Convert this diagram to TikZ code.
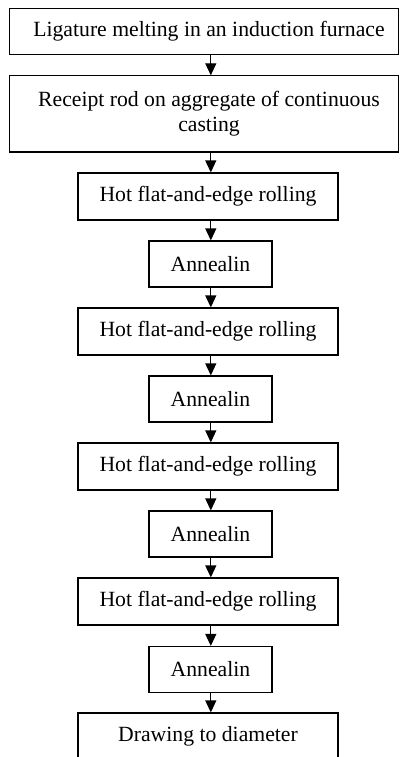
\documentclass[tikz,border=0pt]{standalone}
\usepackage{fontspec}
\setmainfont{Liberation Serif}
\usetikzlibrary{arrows.meta}
\begin{document}
\begin{tikzpicture}[x=1pt,y=-1pt,
  box/.style={draw=black, line width=1.2pt, rectangle, inner sep=0pt,
    align=center, font=\fontsize{21.7}{24.5}\selectfont},
  wide/.style={box, minimum width=389pt},
  mid/.style={box, minimum width=260pt, minimum height=47pt},
  small/.style={box, minimum width=123pt, minimum height=46pt},
  arr/.style={line width=1.2pt, -{Triangle[width=11pt,length=12pt]}}]
\useasboundingbox (0,0) rectangle (399,757);
\clip (0,0) rectangle (399,757);
\coordinate (ax) at (210.8,0);
\node[wide, minimum height=46pt] (b1) at (204,31.4) {\hspace*{10pt}Ligature melting in an induction furnace};
\node[wide, minimum height=76pt] (b2) at (204,113.9) {\hspace*{10pt}Receipt rod on aggregate of continuous\\\hspace*{10pt}casting};
\node[mid] (b3) at (208,196.5) {Hot flat-and-edge rolling};
\node[small] (a1) at (210.5,264) {Annealin};
\node[mid] (b5) at (208,331.5) {Hot flat-and-edge rolling};
\node[small] (a2) at (210.5,399) {Annealin};
\node[mid] (b7) at (208,466.5) {Hot flat-and-edge rolling};
\node[small] (a3) at (210.5,534) {Annealin};
\node[mid] (b9) at (208,601.5) {Hot flat-and-edge rolling};
\node[small] (a4) at (210.5,669.5) {Annealin};
\node[mid] (b11) at (208,736.5) {Drawing to diameter};
\foreach \s/\t in {b1/b2,b2/b3,b3/a1,a1/b5,b5/a2,a2/b7,b7/a3,a3/b9,b9/a4,a4/b11}
  \draw[arr] (\s.south -| ax) -- (\t.north -| ax);
\end{tikzpicture}
\end{document}
